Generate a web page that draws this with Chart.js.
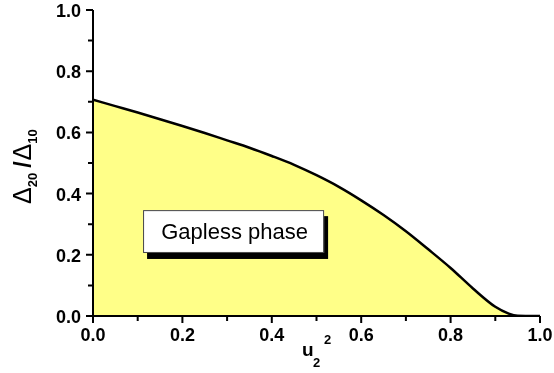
<!DOCTYPE html>
<html>
<head>
<meta charset="utf-8">
<script src="https://cdn.jsdelivr.net/npm/chart.js@4"></script>
<style>
  html, body { margin: 0; padding: 0; background: #fff; }
  #wrap { width: 554px; height: 373px; position: relative; }
</style>
</head>
<body>
<div id="wrap"><canvas id="mainChart" width="554" height="373"></canvas></div>
<script>
// u2^2 values and the boundary of the gapless phase
const uSquared = [0, 0.05, 0.1, 0.15, 0.2, 0.25, 0.3, 0.35, 0.4, 0.45, 0.5, 0.55, 0.6, 0.65, 0.7, 0.75, 0.8, 0.85, 0.9, 0.93, 0.95, 1.0];
const gapRatio = [0.707, 0.686, 0.665, 0.643, 0.621, 0.598, 0.574, 0.55, 0.523, 0.494, 0.46, 0.422, 0.378, 0.33, 0.277, 0.218, 0.157, 0.09, 0.03, 0.008, 0.001, 0];
const xTicks = [0, 0.2, 0.4, 0.6, 0.8, 1.0];
const yTicks = [0, 0.2, 0.4, 0.6, 0.8, 1.0];
const phaseLabel = 'Gapless phase';

const FONT = "'Liberation Sans', Arial, sans-serif";

const axesPlugin = {
    id: 'axesDecor',
    afterDraw(chart) {
        const { ctx, chartArea, scales } = chart;
        const x = scales.x, y = scales.y;
        ctx.save();
        ctx.strokeStyle = '#000';
        ctx.lineWidth = 2;
        // axis lines
        ctx.beginPath();
        ctx.moveTo(chartArea.left, chartArea.top);
        ctx.lineTo(chartArea.left, chartArea.bottom);
        ctx.lineTo(chartArea.right, chartArea.bottom);
        ctx.stroke();
        // major + minor ticks
        for (let i = 0; i <= 10; i++) {
            const v = i / 10;
            const len = i % 2 === 0 ? 7 : 5;
            const px = x.getPixelForValue(v);
            const py = y.getPixelForValue(v);
            ctx.beginPath();
            ctx.moveTo(px, chartArea.bottom);
            ctx.lineTo(px, chartArea.bottom + len);
            ctx.moveTo(chartArea.left, py);
            ctx.lineTo(chartArea.left - len, py);
            ctx.stroke();
        }
        // tick labels
        ctx.fillStyle = '#000';
        ctx.font = 'bold 18px ' + FONT;
        ctx.textAlign = 'center';
        ctx.textBaseline = 'top';
        xTicks.forEach(v => ctx.fillText(v.toFixed(1), x.getPixelForValue(v), chartArea.bottom + 11));
        ctx.textAlign = 'right';
        ctx.textBaseline = 'middle';
        yTicks.forEach(v => ctx.fillText(v.toFixed(1), chartArea.left - 12, y.getPixelForValue(v) + 2));

        // x title: u2^2
        ctx.textAlign = 'left';
        ctx.textBaseline = 'alphabetic';
        ctx.font = 'bold 19px ' + FONT;
        ctx.fillText('u', 302, 356);
        ctx.font = 'bold 13px ' + FONT;
        ctx.fillText('2', 313, 367);
        ctx.font = 'bold 13px ' + FONT;
        ctx.fillText('2', 324, 344);

        // y title: Δ20 /Δ10 rotated
        ctx.save();
        ctx.translate(31, 204);
        ctx.rotate(-Math.PI / 2);
        ctx.font = '25px ' + FONT;
        let cx = 0;
        ctx.fillText('\u0394', cx, 0); cx += ctx.measureText('\u0394').width;
        ctx.font = 'bold 13px ' + FONT;
        ctx.fillText('20', cx, 6); cx += ctx.measureText('20').width + 5;
        ctx.font = 'bold 23px ' + FONT;
        ctx.fillText('/', cx, 0); cx += ctx.measureText('/').width + 1;
        ctx.font = '25px ' + FONT;
        ctx.fillText('\u0394', cx, 0); cx += ctx.measureText('\u0394').width;
        ctx.font = 'bold 13px ' + FONT;
        ctx.fillText('10', cx, 6);
        ctx.restore();

        // phase label box with shadow
        const bx0 = x.getPixelForValue(0.112), bx1 = x.getPixelForValue(0.517);
        const by0 = y.getPixelForValue(0.346), by1 = y.getPixelForValue(0.206);
        ctx.fillStyle = '#000';
        ctx.fillRect(bx0 + 4, by0 + 6, bx1 - bx0, by1 - by0);
        ctx.fillStyle = '#fff';
        ctx.fillRect(bx0, by0, bx1 - bx0, by1 - by0);
        ctx.lineWidth = 1;
        ctx.strokeStyle = '#444';
        ctx.strokeRect(bx0 + 0.5, by0 + 0.5, bx1 - bx0 - 1, by1 - by0 - 1);
        ctx.fillStyle = '#000';
        ctx.font = '22px ' + FONT;
        ctx.textAlign = 'center';
        ctx.textBaseline = 'middle';
        ctx.fillText(phaseLabel, (bx0 + bx1) / 2 + 1, (by0 + by1) / 2 + 1);
        ctx.restore();
    }
};

new Chart(document.getElementById('mainChart'), {
    type: 'line',
    data: {
        datasets: [{
            data: uSquared.map((u, i) => ({ x: u, y: gapRatio[i] })),
            borderColor: '#000',
            borderWidth: 2.5,
            backgroundColor: '#ffff88',
            fill: 'origin',
            pointRadius: 0,
            cubicInterpolationMode: 'monotone'
        }]
    },
    options: {
        responsive: false,
        animation: false,
        layout: { padding: { top: 10, right: 14, left: 0, bottom: 0 } },
        plugins: { legend: { display: false }, tooltip: { enabled: false } },
        scales: {
            x: {
                type: 'linear', min: 0, max: 1,
                grid: { display: false },
                border: { display: false },
                ticks: { display: false },
                afterFit: s => { s.height = 57; }
            },
            y: {
                type: 'linear', min: 0, max: 1,
                grid: { display: false },
                border: { display: false },
                ticks: { display: false },
                afterFit: s => { s.width = 93; }
            }
        }
    },
    plugins: [axesPlugin]
});
</script>
</body>
</html>
